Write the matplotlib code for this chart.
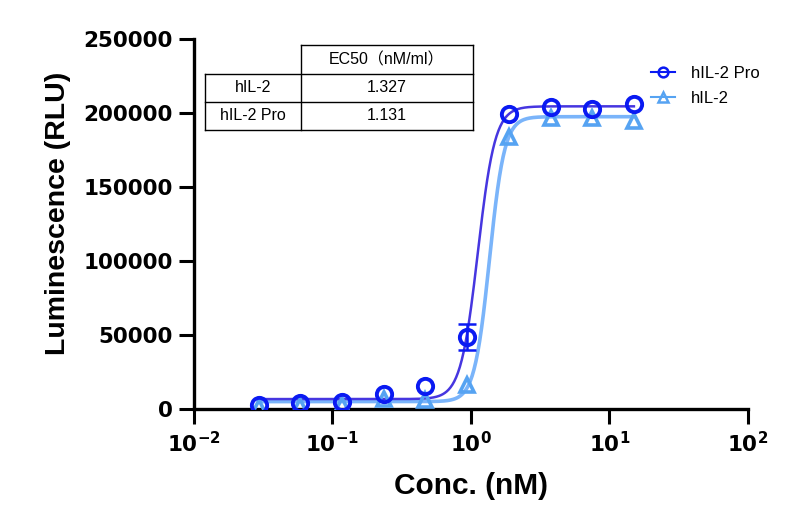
import numpy as np
import matplotlib
matplotlib.use("Agg")
import matplotlib.pyplot as plt
from matplotlib.lines import Line2D

plt.rcParams['mathtext.fontset'] = 'custom'
plt.rcParams['mathtext.bf'] = 'DejaVu Sans:bold'
plt.rcParams['mathtext.rm'] = 'DejaVu Sans:bold'

# ---------------- data ----------------
conc = [0.0293, 0.0586, 0.117, 0.234, 0.469, 0.9375, 1.875, 3.75, 7.5, 15.0]
pro_vals = [2700, 4000, 4700, 10100, 15500, 48600, 199300, 204000, 202700, 206000]
pro_err = [np.nan, np.nan, np.nan, np.nan, np.nan, 8500, np.nan, np.nan, np.nan, np.nan]
il2_vals = [1500, 2000, 3000, 6700, 6000, 16200, 183800, 196600, 196600, 194600]

# fitted 4PL parameters (bottom, top, EC50, hill)
pro_fit = (6700, 204500, 1.12, 7.0)
il2_fit = (5000, 197500, 1.36, 8.0)

table_header = "EC50\uff08nM/ml\uff09"
table_rows = ["hIL-2", "hIL-2 Pro"]
table_vals = ["1.327", "1.131"]

series_names = ["hIL-2 Pro", "hIL-2"]
xtick_vals = [1e-2, 1e-1, 1e0, 1e1, 1e2]
xtick_labels = [r'$\mathbf{10^{-2}}$', r'$\mathbf{10^{-1}}$', r'$\mathbf{10^{0}}$',
                r'$\mathbf{10^{1}}$', r'$\mathbf{10^{2}}$']
ytick_vals = [0, 50000, 100000, 150000, 200000, 250000]

pro_line_c = '#4636e0'
pro_mark_c = '#0a1af2'
il2_line_c = '#7ab4fa'
il2_mark_c = '#56a3f2'


def fourpl(x, p):
    b, t, ec, h = p
    return b + (t - b) / (1 + (ec / x) ** h)


W, H = 812, 516
fig = plt.figure(figsize=(W / 100, H / 100), dpi=100)
ax = fig.add_axes([194 / W, 1 - 409 / H, (748 - 194) / W, (409 - 39) / H])

xs = np.logspace(np.log10(conc[0]), np.log10(conc[-1]), 400)
ax.plot(xs, fourpl(xs, il2_fit), color=il2_line_c, lw=2.6, zorder=2)
ax.plot(xs, fourpl(xs, pro_fit), color=pro_line_c, lw=1.8, zorder=3)

ax.plot(conc, il2_vals, '^', ms=10, mfc='none', mec=il2_mark_c, mew=2.6, zorder=4)
ax.errorbar(conc, pro_vals, yerr=pro_err, fmt='none', ecolor=pro_mark_c,
            elinewidth=1.8, capsize=6.5, capthick=1.8, zorder=5)
ax.plot(conc, pro_vals, 'o', ms=11, mfc='none', mec=pro_mark_c, mew=2.8, zorder=6)

ax.set_xscale('log')
ax.set_xlim(1e-2, 1e2)
ax.set_ylim(0, 250000)
ax.set_xticks(xtick_vals)
ax.set_xticklabels(xtick_labels)
ax.xaxis.set_minor_locator(matplotlib.ticker.NullLocator())
ax.set_yticks(ytick_vals)
ax.set_yticklabels([str(v) for v in ytick_vals])

for s in ['top', 'right']:
    ax.spines[s].set_visible(False)
for s in ['left', 'bottom']:
    ax.spines[s].set_linewidth(2.4)
ax.tick_params(axis='both', direction='out', length=10.5, width=2.2, color='black')
ax.tick_params(axis='y', labelsize=15.5, pad=5)
ax.tick_params(axis='x', labelsize=15.5, pad=5)
for lab in ax.get_yticklabels():
    lab.set_fontweight('bold')
    lab.set_family('DejaVu Sans')

ax.set_xlabel("Conc. (nM)", fontsize=21.5, fontweight='bold', family='Liberation Sans', labelpad=12)
ax.set_ylabel("Luminescence (RLU)", fontsize=20.5, fontweight='bold', family='Liberation Sans')
ax.yaxis.set_label_coords(-0.222, 0.53)

# legend
handles = [
    Line2D([0], [0], color=pro_mark_c, lw=1.5, marker='o', ms=7, mfc='none', mec=pro_mark_c, mew=1.8),
    Line2D([0], [0], color=il2_mark_c, lw=1.5, marker='^', ms=7, mfc='none', mec=il2_mark_c, mew=1.8),
]
fig.legend(handles, series_names, loc='upper left', bbox_to_anchor=(643 / W, 1 - 58 / H),
           frameon=False, prop={'family': 'Liberation Sans', 'size': 12},
           handlelength=1.4, handletextpad=1.0, labelspacing=0.6, borderpad=0)

# EC50 table
def fx(p):
    return p / W


def fy(p):
    return 1 - p / H


x0, x1, x2 = 205, 301, 473
y0, y1, y2, y3 = 45, 74, 102, 130
segs = [((x1, y0), (x2, y0)), ((x1, y0), (x1, y3)), ((x2, y0), (x2, y3)),
        ((x0, y1), (x2, y1)), ((x0, y2), (x2, y2)), ((x0, y3), (x2, y3)),
        ((x0, y1), (x0, y3))]
for (a, b) in segs:
    fig.add_artist(Line2D([fx(a[0]), fx(b[0])], [fy(a[1]), fy(b[1])], color='black', lw=1.0))

tfam = ['Liberation Sans', 'Noto Sans CJK SC']
fig.text(fx((x1 + x2) / 2), fy((y0 + y1) / 2), table_header, ha='center', va='center',
         fontsize=11.5, family=tfam)
for i, (r, v) in enumerate(zip(table_rows, table_vals)):
    yc = fy((y1 + y2) / 2 + i * (y2 - y1))
    fig.text(fx((x0 + x1) / 2), yc, r, ha='center', va='center', fontsize=11.5, family=tfam)
    fig.text(fx((x1 + x2) / 2), yc, v, ha='center', va='center', fontsize=11.5, family=tfam)

fig.savefig("out.png", dpi=100)
